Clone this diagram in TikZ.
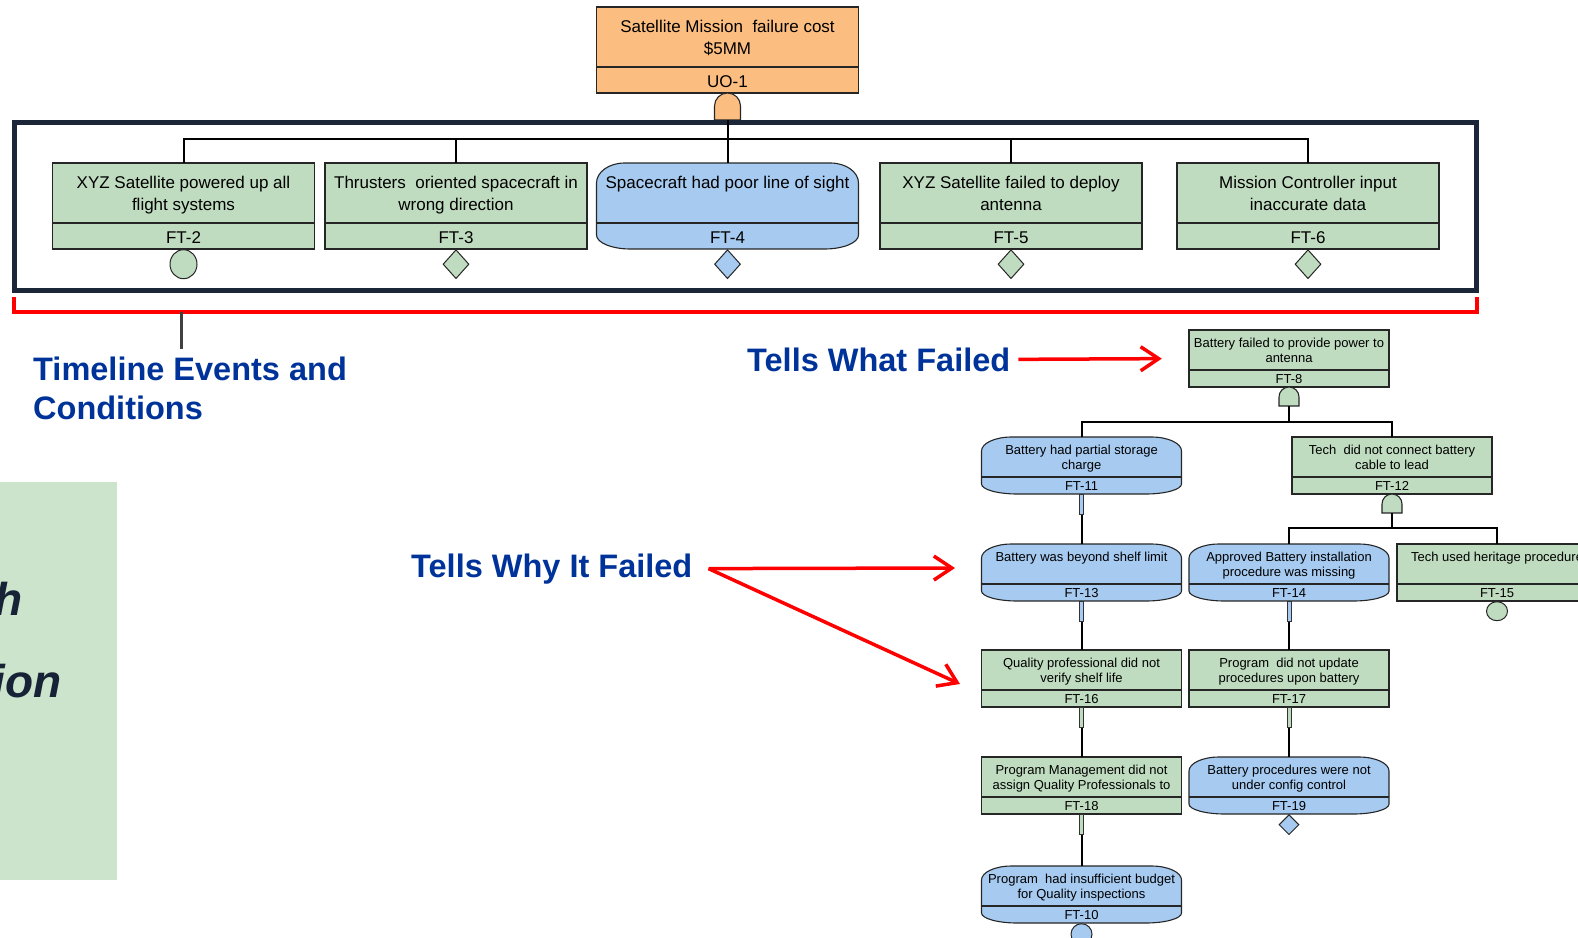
\documentclass[tikz,border=0pt]{standalone}
\usepackage{fontspec}
\setmainfont{Liberation Sans}
\usetikzlibrary{shapes.geometric,arrows.meta}
\definecolor{ftgreen}{RGB}{192,220,192}
\definecolor{ftblue}{RGB}{166,202,240}
\definecolor{ftorange}{RGB}{252,190,128}
\definecolor{panelgreen}{RGB}{204,228,204}
\definecolor{framecol}{RGB}{27,38,56}
\definecolor{bluetxt}{RGB}{0,51,153}
\definecolor{paneltxt}{RGB}{23,34,55}
\definecolor{tickgray}{RGB}{64,64,64}

\newcommand\evbox[8]{%
  \if#5B\def\hw{131}\def\hh{86}\def\dv{60}\def\ba{25}\def\bb{47}\def\bl{80}\def\rht{28}\def\rvt{20}\def\rhb{34}\def\rvb{14}\def\bfnt{\fontsize{17}{20}\selectfont}%
  \else\def\hw{100}\def\hh{57}\def\dv{40}\def\ba{17}\def\bb{32}\def\bl{53}\def\rht{30}\def\rvt{14}\def\rhb{36}\def\rvb{10}\def\bfnt{\fontsize{13}{15}\selectfont}\fi
  \if#2g\def\fc{ftgreen}\fi
  \if#2b\def\fc{ftblue}\fi
  \if#2o\def\fc{ftorange}\fi
  \if#2b
    \draw[boxline,fill=\fc] (#3-\hw,#4+\rvt) arc[start angle=180,end angle=90,x radius=\rht pt,y radius=\rvt pt] -- (#3+\hw-\rht,#4) arc[start angle=90,end angle=0,x radius=\rht pt,y radius=\rvt pt] -- (#3+\hw,#4+\hh-\rvb) arc[start angle=0,end angle=-90,x radius=\rhb pt,y radius=\rvb pt] -- (#3-\hw+\rhb,#4+\hh) arc[start angle=-90,end angle=-180,x radius=\rhb pt,y radius=\rvb pt] -- cycle;
  \else
    \draw[boxline,fill=\fc] (#3-\hw,#4) rectangle (#3+\hw,#4+\hh);
  \fi
  \draw[boxline] (#3-\hw,#4+\dv) -- (#3+\hw,#4+\dv);
  \node[inner sep=0,minimum width=2*\hw pt,minimum height=\hh pt] (#1) at (#3,#4+\hh/2) {};
  \node[txt,font=\bfnt] (#1a) at (#3,#4+\ba) {#6};
  \if\relax\detokenize{#7}\relax\else\node[txt,font=\bfnt] (#1b) at (#3,#4+\bb) {#7};\fi
  \node[txt,font=\bfnt] (#1l) at (#3,#4+\bl) {#8};
}
\newcommand\gate[6]{%
  \draw[boxline,fill=#6] (#2-#5,#4) -- (#2-#5,#3+#5) arc[start angle=180,end angle=0,radius=#5pt] -- (#2+#5,#4) -- cycle;
  \node[inner sep=0,minimum width=2*#5pt,minimum height=#4pt-#3pt] (#1) at (#2,{(#3+#4)/2}) {};
}
\newcommand\stub[4]{%
  \node[stubbox,fill=#3,anchor=north] (#1) at (#2.south) {};
  \draw[conn] (#1.south) -- (#4.north);
}

\begin{document}
\begin{tikzpicture}[x=1pt,y=-1pt,
  conn/.style={line width=2pt,black},
  boxline/.style={draw=black!85,line width=1.1pt},
  txt/.style={anchor=base,inner sep=0},
  stubbox/.style={draw=black!80,line width=0.8pt,inner sep=0,minimum width=4pt,minimum height=20pt},
  basicev/.style={ellipse,draw=black!85,line width=1pt,inner sep=0},
  dia/.style={diamond,draw=black!85,line width=1pt,inner sep=0},
  redarr/.style={draw=red,line width=3.5pt,-{Straight Barb[length=18pt,width=24pt]}},
  bluelbl/.style={inner sep=0,text=bluetxt,font=\fontsize{32.5}{38}\selectfont\bfseries},
  paneltext/.style={inner sep=0,text=paneltxt,font=\fontsize{46}{50}\selectfont\bfseries\itshape}]
\path[use as bounding box] (0,0) rectangle (1578,937);
\clip (0,0) rectangle (1578,937);

% left panel
\fill[panelgreen] (0,482) rectangle (117,880);
\node[paneltext,anchor=base east] (p1) at (23,615) {h};
\node[paneltext,anchor=base east] (p2) at (62,697) {ion};

% top event
\evbox{uo1}{o}{727.5}{7}{B}{Satellite Mission\ \ failure cost}{\$5MM}{UO-1}
\gate{g0}{727.5}{93}{120}{13}{ftorange}

% timeline row
\evbox{ft2}{g}{183.5}{163}{B}{XYZ Satellite powered up all}{flight systems}{FT-2}
\evbox{ft3}{g}{456}{163}{B}{Thrusters\ \ oriented spacecraft in}{wrong direction}{FT-3}
\evbox{ft4}{b}{727.5}{163}{B}{Spacecraft had poor line of sight}{}{FT-4}
\evbox{ft5}{g}{1011}{163}{B}{XYZ Satellite failed to deploy}{antenna}{FT-5}
\evbox{ft6}{g}{1308}{163}{B}{Mission Controller input}{inaccurate data}{FT-6}

\node[basicev,fill=ftgreen,minimum width=27pt,minimum height=29pt,anchor=north] (e2) at (ft2.south) {};
\node[dia,fill=ftgreen,minimum width=26pt,minimum height=29pt,anchor=north] (e3) at (ft3.south) {};
\node[dia,fill=ftblue,minimum width=26pt,minimum height=29pt,anchor=north] (e4) at (ft4.south) {};
\node[dia,fill=ftgreen,minimum width=26pt,minimum height=29pt,anchor=north] (e5) at (ft5.south) {};
\node[dia,fill=ftgreen,minimum width=26pt,minimum height=29pt,anchor=north] (e6) at (ft6.south) {};

% frame and bracket
\draw[framecol,line width=5pt] (14,122.5) rectangle (1476,290.5);
\draw[red,line width=3.5pt] (14,297) -- (14,312) -- (1477,312) -- (1477,297);
\draw[tickgray,line width=3pt] (181,312) -- (181,349);

% top connectors
\coordinate (busT) at (0,139);
\draw[conn] (g0.south) -- (ft4.north);
\draw[conn] (ft2.north) |- (ft6.north |- busT) -- (ft6.north);
\draw[conn] (ft3.north) -- (ft3.north |- busT);
\draw[conn] (ft5.north) -- (ft5.north |- busT);

% labels
\node[bluelbl,anchor=base west] (tl1) at (33,380) {Timeline Events and};
\node[bluelbl,anchor=base west] (tl2) at (33,419) {Conditions};
\node[bluelbl,anchor=base west] (what) at (747,371) {Tells What Failed};
\node[bluelbl,anchor=base west] (why) at (411,577) {Tells Why It Failed};

% lower tree
\evbox{ft8}{g}{1289}{330}{S}{Battery failed to provide power to}{antenna}{FT-8}
\gate{g8}{1289}{387}{406}{10}{ftgreen}
\evbox{ft11}{b}{1081.5}{437}{S}{Battery had partial storage}{charge}{FT-11}
\evbox{ft12}{g}{1392}{437}{S}{Tech\ \ did not connect battery}{cable to lead}{FT-12}
\gate{g12}{1392}{494}{513}{10}{ftgreen}
\evbox{ft13}{b}{1081.5}{544}{S}{Battery was beyond shelf limit}{}{FT-13}
\evbox{ft14}{b}{1289}{544}{S}{Approved Battery installation}{procedure was missing}{FT-14}
\evbox{ft15}{g}{1497}{544}{S}{Tech used heritage procedure}{}{FT-15}
\evbox{ft16}{g}{1081.5}{650}{S}{Quality professional did not}{verify shelf life}{FT-16}
\evbox{ft17}{g}{1289}{650}{S}{Program\ \ did not update}{procedures upon battery}{FT-17}
\evbox{ft18}{g}{1081.5}{757}{S}{Program Management did not}{assign Quality Professionals to}{FT-18}
\evbox{ft19}{b}{1289}{757}{S}{Battery procedures were not}{under config control}{FT-19}
\evbox{ft10}{b}{1081.5}{866}{S}{Program\ \ had insufficient budget}{for Quality inspections}{FT-10}

\coordinate (bus8) at (0,422);
\coordinate (bus12) at (0,528);
\draw[conn] (g8.south) -- (g8.south |- bus8);
\draw[conn] (ft11.north) |- (ft12.north |- bus8) -- (ft12.north);
\draw[conn] (g12.south) -- (g12.south |- bus12);
\draw[conn] (ft14.north) |- (ft15.north |- bus12) -- (ft15.north);

\stub{s11}{ft11}{ftblue}{ft13}
\stub{s13}{ft13}{ftblue}{ft16}
\stub{s14}{ft14}{ftblue}{ft17}
\stub{s16}{ft16}{ftgreen}{ft18}
\stub{s17}{ft17}{ftgreen}{ft19}
\stub{s18}{ft18}{ftgreen}{ft10}

\node[basicev,fill=ftgreen,minimum width=21pt,minimum height=19pt,anchor=north] (e15) at (ft15.south) {};
\node[dia,fill=ftblue,minimum width=20pt,minimum height=20pt,anchor=north] (e19) at (ft19.south) {};
\node[basicev,fill=ftblue,minimum width=21pt,minimum height=21pt,anchor=north] (e10) at (ft10.south) {};

% red arrows
\draw[redarr,shorten <=8pt,shorten >=27pt] (what.east) -- (ft8.west);
\coordinate (whyS) at ([xshift=16pt]why.east);
\coordinate (whyT1) at (955,568);
\coordinate (whyT2) at (960,684);
\draw[redarr] (whyS) -- (whyT1);
\draw[redarr] (whyS) -- (whyT2);
\end{tikzpicture}
\end{document}
